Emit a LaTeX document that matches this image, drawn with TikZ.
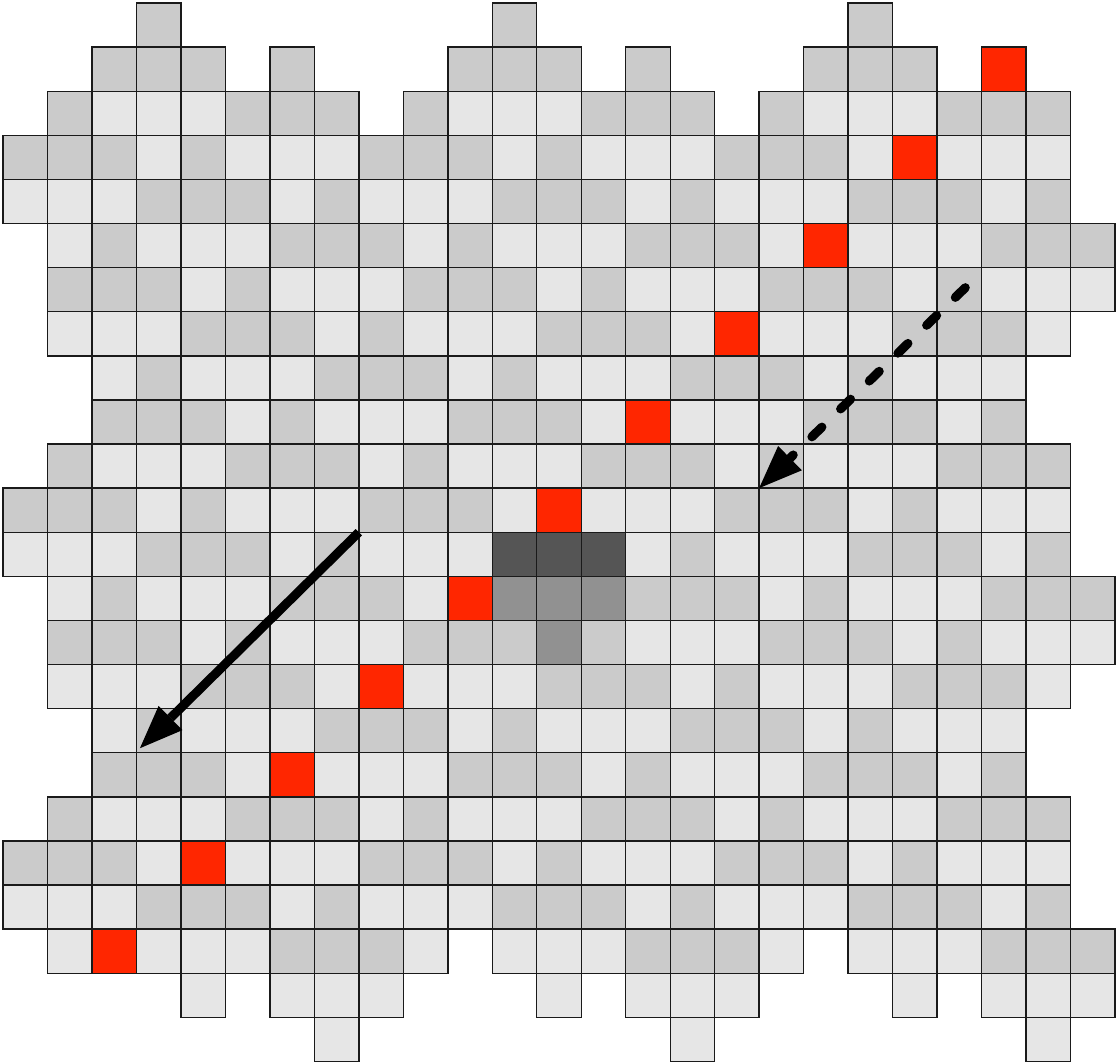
\documentclass[tikz,border=0pt]{standalone}
\usetikzlibrary{arrows.meta}
\definecolor{cL}{HTML}{E6E6E6}
\definecolor{cD}{HTML}{CBCBCB}
\definecolor{cR}{HTML}{FF2600}
\definecolor{cK}{HTML}{555555}
\definecolor{cM}{HTML}{919191}
\definecolor{edgecol}{HTML}{1A1A1A}
\begin{document}
\begin{tikzpicture}[x=1pt,y=-1pt,
  cell/.style={draw=edgecol, line width=1.4pt, minimum width=44.48pt, minimum height=44.1pt, inner sep=0pt, outer sep=0pt},
  arrowline/.style={line width=9pt, -{Triangle[length=43pt,width=34pt,line width=0pt]}}]
\useasboundingbox (0,0) rectangle (1117,1063);
\foreach \rowlist [count=\rr from 0] in {
 {o,o,o,D,o,o,o,o,o,o,o,D,o,o,o,o,o,o,o,D,o,o,o,o,o},
 {o,o,D,D,D,o,D,o,o,o,D,D,D,o,D,o,o,o,D,D,D,o,R,o,o},
 {o,D,L,L,L,D,D,D,o,D,L,L,L,D,D,D,o,D,L,L,L,D,D,D,o},
 {D,D,D,L,D,L,L,L,D,D,D,L,D,L,L,L,D,D,D,L,R,L,L,L,o},
 {L,L,L,D,D,D,L,D,L,L,L,D,D,D,L,D,L,L,L,D,D,D,L,D,o},
 {o,L,D,L,L,L,D,D,D,L,D,L,L,L,D,D,D,L,R,L,L,L,D,D,D},
 {o,D,D,D,L,D,L,L,L,D,D,D,L,D,L,L,L,D,D,D,L,D,L,L,L},
 {o,L,L,L,D,D,D,L,D,L,L,L,D,D,D,L,R,L,L,L,D,D,D,L,o},
 {o,o,L,D,L,L,L,D,D,D,L,D,L,L,L,D,D,D,L,D,L,L,L,o,o},
 {o,o,D,D,D,L,D,L,L,L,D,D,D,L,R,L,L,L,D,D,D,L,D,o,o},
 {o,D,L,L,L,D,D,D,L,D,L,L,L,D,D,D,L,D,L,L,L,D,D,D,o},
 {D,D,D,L,D,L,L,L,D,D,D,L,R,L,L,L,D,D,D,L,D,L,L,L,o},
 {L,L,L,D,D,D,L,D,L,L,L,K,K,K,L,D,L,L,L,D,D,D,L,D,o},
 {o,L,D,L,L,L,D,D,D,L,R,M,M,M,D,D,D,L,D,L,L,L,D,D,D},
 {o,D,D,D,L,D,L,L,L,D,D,D,M,D,L,L,L,D,D,D,L,D,L,L,L},
 {o,L,L,L,D,D,D,L,R,L,L,L,D,D,D,L,D,L,L,L,D,D,D,L,o},
 {o,o,L,D,L,L,L,D,D,D,L,D,L,L,L,D,D,D,L,D,L,L,L,o,o},
 {o,o,D,D,D,L,R,L,L,L,D,D,D,L,D,L,L,L,D,D,D,L,D,o,o},
 {o,D,L,L,L,D,D,D,L,D,L,L,L,D,D,D,L,D,L,L,L,D,D,D,o},
 {D,D,D,L,R,L,L,L,D,D,D,L,D,L,L,L,D,D,D,L,D,L,L,L,o},
 {L,L,L,D,D,D,L,D,L,L,L,D,D,D,L,D,L,L,L,D,D,D,L,D,o},
 {o,L,R,L,L,L,D,D,D,L,o,L,L,L,D,D,D,L,o,L,L,L,D,D,D},
 {o,o,o,o,L,o,L,L,L,o,o,o,L,o,L,L,L,o,o,o,L,o,L,L,L},
 {o,o,o,o,o,o,o,L,o,o,o,o,o,o,o,L,o,o,o,o,o,o,o,L,o}}{
  \foreach \ch [count=\cc from 0] in \rowlist {
    \if o\ch\else
      \node[cell, fill=c\ch] (cell-\rr-\cc) at ({25.24+44.48*\cc},{25.05+44.1*\rr}) {};
    \fi
  }
}
\coordinate (s1) at (cell-12-8.north west);
\coordinate (e1) at ([shift={(3.5,-4.5)}]cell-16-3.south west);
\draw[arrowline] (s1) -- (e1);
\coordinate (s2) at ([shift={(6,-2)}]cell-6-21.center);
\coordinate (e2) at (cell-11-17.north west);
\draw[arrowline, line cap=round, dash pattern=on 14pt off 26pt] (s2) -- (e2);
\end{tikzpicture}
\end{document}
